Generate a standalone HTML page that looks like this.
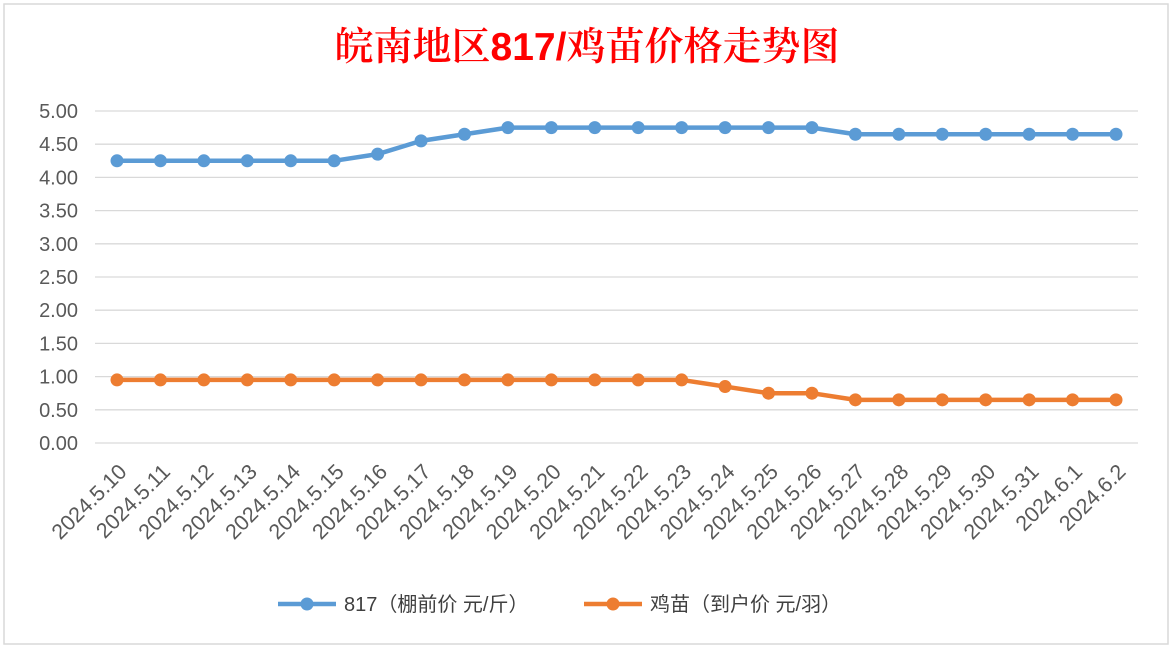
<!DOCTYPE html>
<html><head><meta charset="utf-8"><style>
body{margin:0;background:#fff;}
svg{display:block;font-family:"Liberation Sans","Noto Sans CJK SC",sans-serif;}
</style></head><body>
<svg id="chart" width="1173" height="649">
<rect x="4" y="4" width="1164" height="640" fill="#fff" stroke="#d9d9d9" stroke-width="1.5"/>
<text x="587" y="60" text-anchor="middle" font-size="39" fill="#ff0000" font-family="'Noto Serif CJK SC',serif" font-weight="600">皖南地区<tspan font-family="'Liberation Sans',sans-serif" font-weight="bold">817/</tspan>鸡苗价格走势图</text>
<g id="grid"></g><g id="yticks"></g><g id="xticks"></g><g id="series"></g>
<g>
<line x1="278" y1="604" x2="336" y2="604" stroke="#5b9bd5" stroke-width="4.5"/>
<circle cx="307" cy="604" r="6.5" fill="#5b9bd5"/>
<text x="344" y="611" font-size="20" fill="#404040">817（棚前价 元/斤）</text>
<line x1="584" y1="604" x2="642" y2="604" stroke="#ed7d31" stroke-width="4.5"/>
<circle cx="613" cy="604" r="6.5" fill="#ed7d31"/>
<text x="650" y="611" font-size="20" fill="#404040">鸡苗（到户价 元/羽）</text>
</g>
</svg>
<script>
const categories=["2024.5.10","2024.5.11","2024.5.12","2024.5.13","2024.5.14","2024.5.15","2024.5.16","2024.5.17","2024.5.18","2024.5.19","2024.5.20","2024.5.21","2024.5.22","2024.5.23","2024.5.24","2024.5.25","2024.5.26","2024.5.27","2024.5.28","2024.5.29","2024.5.30","2024.5.31","2024.6.1","2024.6.2"];
const series817=[4.25,4.25,4.25,4.25,4.25,4.25,4.35,4.55,4.65,4.75,4.75,4.75,4.75,4.75,4.75,4.75,4.75,4.65,4.65,4.65,4.65,4.65,4.65,4.65];
const seriesChick=[0.95,0.95,0.95,0.95,0.95,0.95,0.95,0.95,0.95,0.95,0.95,0.95,0.95,0.95,0.85,0.75,0.75,0.65,0.65,0.65,0.65,0.65,0.65,0.65];
const yTicks=[0,0.5,1,1.5,2,2.5,3,3.5,4,4.5,5];
const NS="http://www.w3.org/2000/svg";
const X0=117,X1=1116,Y0=443,Y5=111,GL=95,GR=1138;
function xs(i){return X0+(X1-X0)*i/(categories.length-1);}
function ys(v){return Y0-(Y0-Y5)*v/5;}
function mk(t,a,p){const e=document.createElementNS(NS,t);for(const k in a)e.setAttribute(k,a[k]);p.appendChild(e);return e;}
const grid=document.getElementById('grid'),yt=document.getElementById('yticks'),xt=document.getElementById('xticks'),sg=document.getElementById('series');
yTicks.forEach(v=>{
 const l=mk('line',{x1:GL,x2:GR,y1:ys(v),y2:ys(v),stroke:'#d9d9d9','stroke-width':1.3},grid);
 
 
 const t=mk('text',{x:78,y:ys(v)+7,'text-anchor':'end','font-size':20,fill:'#595959'},yt);
 t.textContent=v.toFixed(2);
 
 
});
categories.forEach((c,i)=>{
 const x=xs(i)+11,y=473;
 const t=mk('text',{x:x,y:y,'text-anchor':'end','font-size':21.5,fill:'#595959',transform:`rotate(-45 ${x} ${y})`},xt);
 t.textContent=c;
 
 
});
function draw(vals,color,name){
 const g=mk('g',{},sg);
 
 
 mk('polyline',{points:vals.map((v,i)=>xs(i)+','+ys(v)).join(' '),fill:'none',stroke:color,'stroke-width':4.5,'stroke-linejoin':'round'},g);
 vals.forEach((v,i)=>{
  const c=mk('circle',{cx:xs(i),cy:ys(v),r:6.5,fill:color},g);
  
  
 });
}
draw(series817,'#5b9bd5','series-817');
draw(seriesChick,'#ed7d31','series-chick');
</script>
</body></html>
